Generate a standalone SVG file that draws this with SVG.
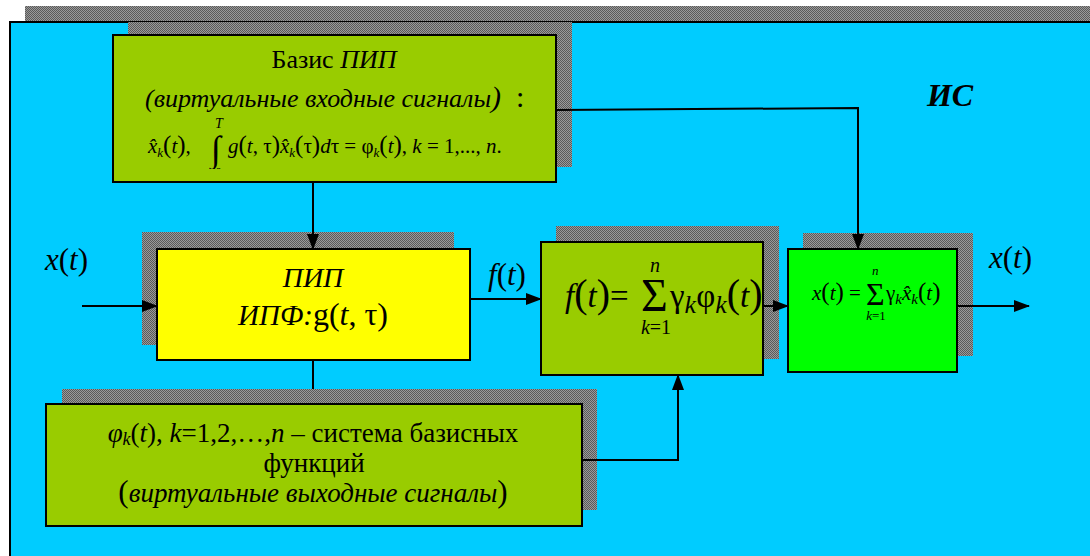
<svg xmlns="http://www.w3.org/2000/svg" width="1090" height="556" viewBox="0 0 1090 556" font-family="'Liberation Serif', 'Times New Roman', serif">
<defs>
<pattern id="dots" width="2" height="2" patternUnits="userSpaceOnUse">
<rect width="2" height="2" fill="#9a9a9a"/>
<rect width="1" height="1" fill="#5a5a5a"/>
<rect x="1" y="1" width="1" height="1" fill="#5a5a5a"/>
</pattern>
<marker id="arr" markerWidth="16" markerHeight="12" refX="15" refY="6" orient="auto" markerUnits="userSpaceOnUse">
<path d="M0,0 L16,6 L0,12 Z" fill="#000"/>
</marker>
<clipPath id="clipTop"><rect x="113" y="35" width="443" height="134"/></clipPath>
</defs>
<style>
.shadow{fill:url(#dots);}
.box{stroke:#000;stroke-width:2;}
.olive{fill:#99CC00;}
.t{font-family:'Liberation Serif','Times New Roman',serif;fill:#000;}
.i{font-style:italic;}
.conn{stroke:#000;stroke-width:2;fill:none;}
</style>

<g id="background">
<rect x="25" y="6" width="1080" height="17" class="shadow"/>
<rect x="10" y="22" width="1095" height="560" fill="#00CCFF" stroke="#000" stroke-width="2"/>
<text x="950" y="106" class="t i" font-size="32" font-weight="bold" text-anchor="middle">ИС</text>
</g>

<g id="node-basis">
<rect x="128" y="22" width="444" height="145" class="shadow"/>
<rect x="113" y="35" width="443" height="147" class="box olive"/>
<text x="334" y="68" class="t" font-size="26" text-anchor="middle">Базис <tspan class="i">ПИП</tspan></text>
<text x="323" y="107" class="t i" font-size="26" text-anchor="middle">(виртуальные входные сигналы<tspan font-size="30">)</tspan></text>
<text x="516" y="107" class="t" font-size="30">:</text>
<g clip-path="url(#clipTop)">
<text x="148" y="153" class="t" font-size="21"><tspan class="i">x̂</tspan><tspan class="i" font-size="13" dy="4">k</tspan><tspan dy="-4" font-size="25">(</tspan><tspan class="i">t</tspan><tspan font-size="25">)</tspan>,</text>
<text x="211" y="161" class="t" font-size="36">∫</text>
<text x="215" y="128" class="t i" font-size="14">T</text>
<text x="215" y="178" class="t" font-size="14">0</text>
<text x="228" y="153" class="t" font-size="21"><tspan class="i">g</tspan><tspan font-size="25">(</tspan><tspan class="i">t</tspan>, τ<tspan font-size="25">)</tspan><tspan class="i">x̂</tspan><tspan class="i" font-size="13" dy="4">k</tspan><tspan dy="-4" font-size="25">(</tspan>τ<tspan font-size="25">)</tspan><tspan class="i">d</tspan>τ = φ<tspan class="i" font-size="13" dy="4">k</tspan><tspan dy="-4" font-size="25">(</tspan><tspan class="i">t</tspan><tspan font-size="25">)</tspan>, <tspan class="i">k</tspan> = 1,..., <tspan class="i">n</tspan>.</text>
</g>
</g>

<g id="node-pip">
<rect x="142" y="232" width="312" height="113" class="shadow"/>
<rect x="157" y="249" width="313" height="111" class="box" fill="#FFFF00"/>
<text x="313" y="287" class="t i" font-size="28" text-anchor="middle">ПИП</text>
<text x="313" y="325" class="t" font-size="32" text-anchor="middle"><tspan class="i" font-size="29">ИПФ:</tspan>g(<tspan class="i">t</tspan>, τ)</text>
</g>

<g id="node-f">
<rect x="556" y="226" width="223" height="133" class="shadow"/>
<rect x="541" y="242" width="222" height="133" class="box olive"/>
<text x="565" y="307" class="t" font-size="33"><tspan class="i">f</tspan><tspan font-size="40">(</tspan><tspan class="i">t</tspan><tspan font-size="40">)</tspan>=</text>
<text x="641" y="311" class="t" font-size="46">Σ</text>
<text x="650" y="272" class="t i" font-size="20">n</text>
<text x="656" y="334" class="t" font-size="20" text-anchor="middle"><tspan class="i">k</tspan>=1</text>
<text x="670" y="307" class="t" font-size="33">γ<tspan class="i" font-size="26" dy="6">k</tspan><tspan dy="-6">φ</tspan><tspan class="i" font-size="26" dy="6">k</tspan><tspan dy="-6" font-size="40">(</tspan><tspan class="i">t</tspan><tspan font-size="40">)</tspan></text>
</g>

<g id="node-x">
<rect x="803" y="233" width="170" height="123" class="shadow"/>
<rect x="788" y="249" width="169" height="123" class="box" fill="#00FF00"/>
<text x="812" y="300" class="t" font-size="21"><tspan class="i">x</tspan><tspan font-size="25">(</tspan><tspan class="i">t</tspan><tspan font-size="25">)</tspan> =</text>
<text x="866" y="305" class="t" font-size="32">Σ</text>
<text x="872" y="275" class="t i" font-size="13">n</text>
<text x="876" y="320" class="t" font-size="13" text-anchor="middle"><tspan class="i">k</tspan>=1</text>
<text x="886" y="300" class="t" font-size="21">γ<tspan class="i" font-size="15" dy="4">k</tspan><tspan dy="-4" class="i">x̂</tspan><tspan class="i" font-size="15" dy="4">k</tspan><tspan dy="-4" font-size="25">(</tspan><tspan class="i">t</tspan><tspan font-size="25">)</tspan></text>
</g>

<g id="node-basis-functions">
<rect x="62" y="389" width="535" height="121" class="shadow"/>
<rect x="46" y="404" width="536" height="122" class="box olive"/>
<text x="313" y="442" class="t" font-size="27" text-anchor="middle"><tspan class="i">φ</tspan><tspan class="i" font-size="18" dy="3">k</tspan><tspan dy="-3">(</tspan><tspan class="i">t</tspan>), <tspan class="i">k</tspan>=1,2,…,<tspan class="i">n</tspan> – система базисных</text>
<text x="314" y="472" class="t" font-size="27" text-anchor="middle">функций</text>
<text x="313" y="502" class="t" font-size="27" text-anchor="middle"><tspan font-size="31">(</tspan><tspan class="i">виртуальные выходные сигналы</tspan><tspan font-size="31">)</tspan></text>
</g>

<g id="connectors">
<path class="conn" d="M313,182 V249" marker-end="url(#arr)"/>
<path class="conn" d="M556,110 L858,108 V249" marker-end="url(#arr)"/>
<path class="conn" d="M82,306 H157" marker-end="url(#arr)"/>
<path class="conn" d="M470,299 H541" marker-end="url(#arr)"/>
<path class="conn" d="M763,306 H788" marker-end="url(#arr)"/>
<path class="conn" d="M957,306 H1029" marker-end="url(#arr)"/>
<path class="conn" d="M313,360 V389"/>
<path class="conn" d="M582,460 H678 V375" marker-end="url(#arr)"/>
</g>

<g id="labels">
<text x="45" y="270" class="t" font-size="31"><tspan class="i">x</tspan>(<tspan class="i">t</tspan>)</text>
<text x="488" y="285" class="t" font-size="31"><tspan class="i">f</tspan>(<tspan class="i">t</tspan>)</text>
<text x="989" y="268" class="t" font-size="31"><tspan class="i">x</tspan>(<tspan class="i">t</tspan>)</text>
</g>
</svg>
